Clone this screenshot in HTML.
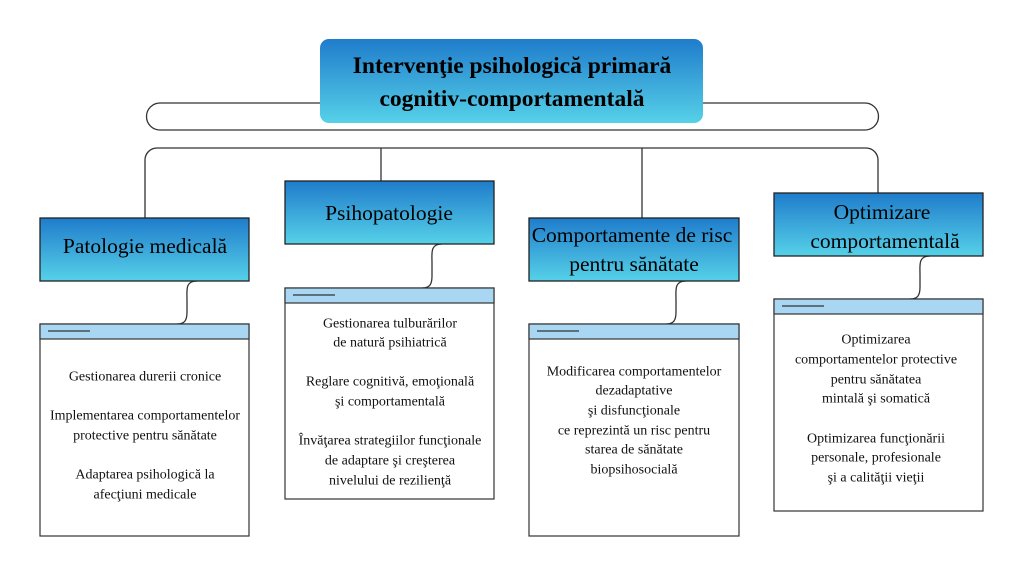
<!DOCTYPE html>
<html><head><meta charset="utf-8"><style>
html,body{margin:0;padding:0;background:#fff;}
svg{display:block;}
text{font-family:"Liberation Serif",serif;}
.c{font-size:14px;fill:#111;text-anchor:middle;dominant-baseline:central;}
.h{font-size:21.5px;fill:#000;text-anchor:middle;dominant-baseline:central;}
.t{font-size:23.5px;font-weight:bold;fill:#000;text-anchor:middle;dominant-baseline:central;}
</style></head><body>
<svg width="1024" height="576" viewBox="0 0 1024 576" xmlns="http://www.w3.org/2000/svg">
<defs>
<linearGradient id="g" x1="0" y1="0" x2="0" y2="1"><stop offset="0" stop-color="#1f7ccb"/><stop offset="1" stop-color="#56d1e8"/></linearGradient>
</defs>
<g fill="none" stroke="#333" stroke-width="1.3">
<path d="M160 103 H865 A13.5 13.5 0 0 1 865 130 H160 A13.5 13.5 0 0 1 160 103 Z"/>
<path d="M145 218 V160 A12 12 0 0 1 157 148 H866 A12 12 0 0 1 878 160 V193"/>
<path d="M381 148 V181"/><path d="M642 148 V218"/>
<path d="M197 281 C185 281 187 290 187 300 V312 C187 320 185 324 177 324"/>
<path d="M442 244 C430 244 432 253 432 263 V276 C432 284 430 288 422 288"/>
<path d="M686 281 C674 281 676 290 676 300 V312 C676 320 674 324 666 324"/>
<path d="M930 256 C918 256 920 265 920 275 V287 C920 295 918 299 910 299"/>
</g>
<rect x="320" y="39" width="383" height="84" rx="9" fill="url(#g)"/>
<text class="t" x="512" y="66">Intervenţie psihologică primară</text>
<text class="t" x="512" y="99">cognitiv-comportamentală</text>
<g stroke="#222" stroke-width="1.3" fill="url(#g)">
<rect x="40" y="218" width="209" height="63"/>
<rect x="285" y="181" width="209" height="63"/>
<rect x="529" y="218" width="210" height="63"/>
<rect x="774" y="193" width="209" height="63"/>
</g>
<text class="h" x="145" y="246">Patologie medicală</text>
<text class="h" x="389" y="213">Psihopatologie</text>
<text class="h" x="632" y="235">Comportamente de risc</text>
<text class="h" x="634" y="264">pentru sănătate</text>
<text class="h" x="882" y="212">Optimizare</text>
<text class="h" x="885" y="241">comportamentală</text>
<g stroke="#333" stroke-width="1.2">
<rect x="40" y="324" width="209" height="212" fill="#fff"/><rect x="40" y="324" width="209" height="15" fill="#a8d6f3"/><line x1="48" y1="331" x2="90" y2="331"/>
<rect x="285" y="288" width="209" height="211" fill="#fff"/><rect x="285" y="288" width="209" height="15" fill="#a8d6f3"/><line x1="293" y1="295" x2="335" y2="295"/>
<rect x="529" y="324" width="210" height="212" fill="#fff"/><rect x="529" y="324" width="210" height="15" fill="#a8d6f3"/><line x1="537" y1="331" x2="579" y2="331"/>
<rect x="774" y="299" width="209" height="212" fill="#fff"/><rect x="774" y="299" width="209" height="15" fill="#a8d6f3"/><line x1="782" y1="306" x2="824" y2="306"/>
</g>
<text class="c" x="145" y="377">Gestionarea durerii cronice</text>
<text class="c" x="145" y="416">Implementarea comportamentelor</text>
<text class="c" x="145" y="436">protective pentru sănătate</text>
<text class="c" x="145" y="475">Adaptarea psihologică la</text>
<text class="c" x="145" y="495">afecţiuni medicale</text>
<text class="c" x="390" y="324">Gestionarea tulburărilor</text>
<text class="c" x="390" y="343">de natură psihiatrică</text>
<text class="c" x="390" y="382">Reglare cognitivă, emoţională</text>
<text class="c" x="390" y="402">şi comportamentală</text>
<text class="c" x="390" y="441">Învăţarea strategiilor funcţionale</text>
<text class="c" x="390" y="461">de adaptare şi creşterea</text>
<text class="c" x="390" y="481">nivelului de rezilienţă</text>
<text class="c" x="634" y="372">Modificarea comportamentelor</text>
<text class="c" x="634" y="391">dezadaptative</text>
<text class="c" x="634" y="411">şi disfuncţionale</text>
<text class="c" x="634" y="431">ce reprezintă un risc pentru</text>
<text class="c" x="634" y="450">starea de sănătate</text>
<text class="c" x="634" y="470">biopsihosocială</text>
<text class="c" x="876" y="340">Optimizarea</text>
<text class="c" x="876" y="360">comportamentelor protective</text>
<text class="c" x="876" y="380">pentru sănătatea</text>
<text class="c" x="876" y="399">mintală şi somatică</text>
<text class="c" x="876" y="439">Optimizarea funcţionării</text>
<text class="c" x="876" y="458">personale, profesionale</text>
<text class="c" x="876" y="478">şi a calităţii vieţii</text>
</svg>
</body></html>
